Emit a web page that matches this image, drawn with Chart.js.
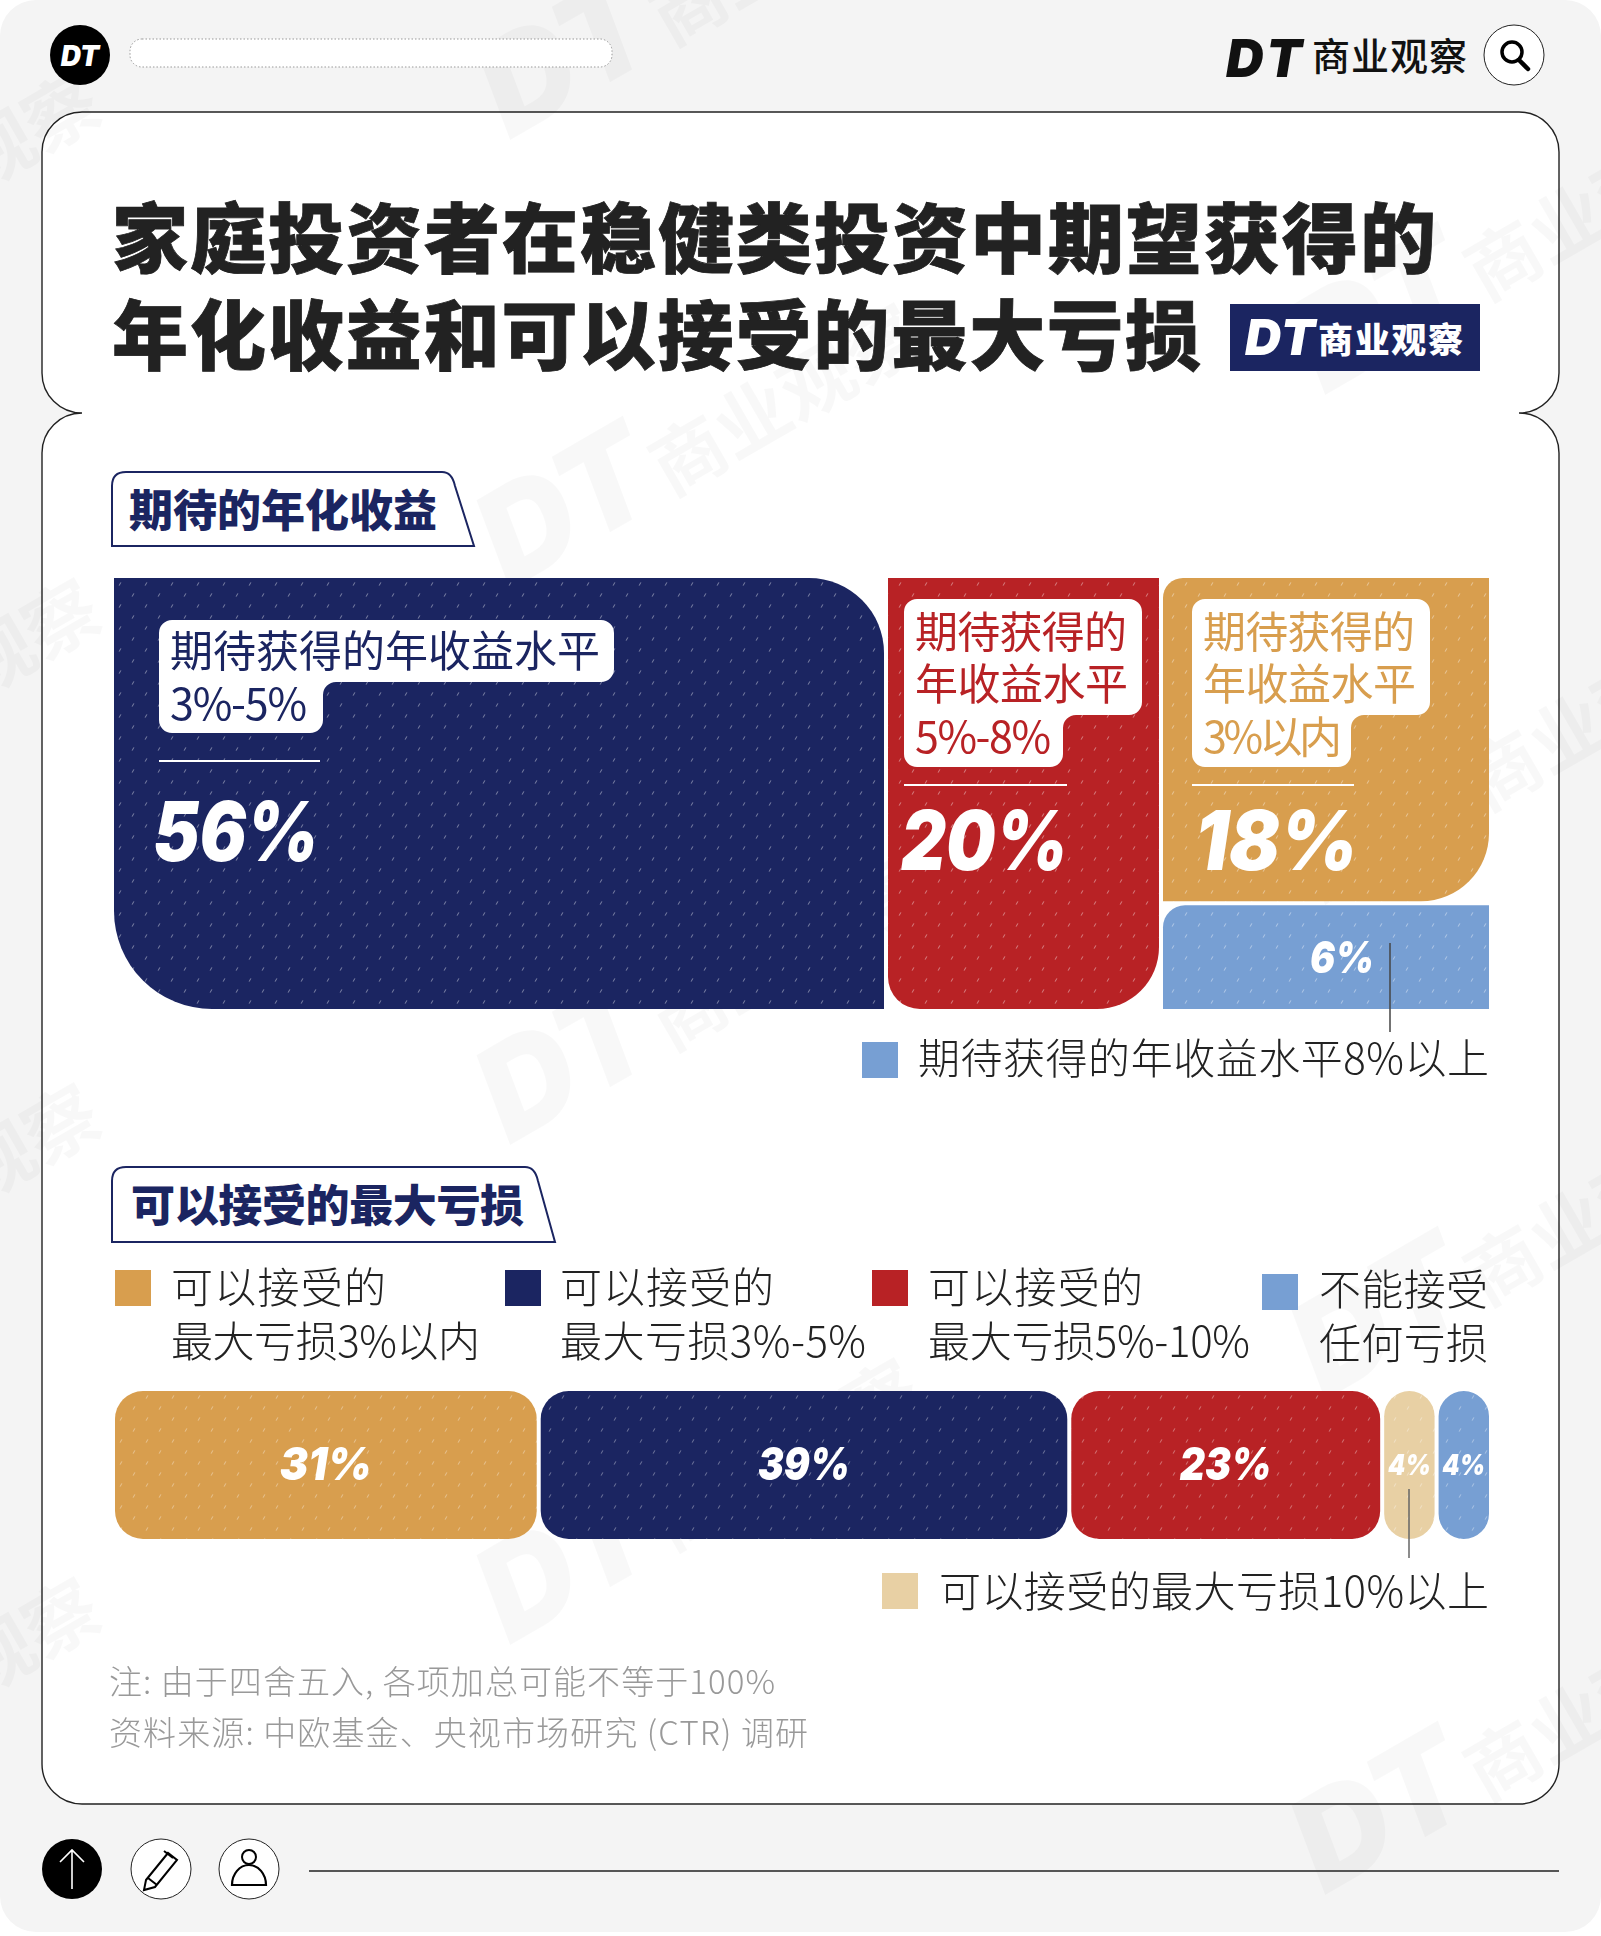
<!DOCTYPE html>
<html lang="zh-CN">
<head>
<meta charset="utf-8">
<title>家庭投资者在稳健类投资中期望获得的年化收益和可以接受的最大亏损</title>
<script src="https://cdn.jsdelivr.net/npm/chart.js@4/dist/chart.umd.min.js"></script>
<style>
    html, body { margin: 0; padding: 0; background: #fff; }
    #page { position: relative; width: 1601px; height: 1936px; overflow: hidden; }
    #page svg, #page canvas { position: absolute; }
    #under, #over { left: 0; top: 0; }
    #under { z-index: 0; }
    #yieldChart { left: 114px; top: 578px; z-index: 1; }
    #lossChart { left: 115px; top: 1391px; z-index: 1; }
    #over { z-index: 2; pointer-events: none; }
</style>
</head>
<body>
<div id="page">
    <svg id="under" width="1601" height="1936" xmlns="http://www.w3.org/2000/svg"></svg>
    <canvas id="yieldChart" width="1375" height="431"></canvas>
    <canvas id="lossChart" width="1374" height="148"></canvas>
    <svg id="over" width="1601" height="1936" xmlns="http://www.w3.org/2000/svg"></svg>
</div>

<script>
const titleLines = ['家庭投资者在稳健类投资中期望获得的', '年化收益和可以接受的最大亏损'];
const brandName = '商业观察';
const yieldHeading = '期待的年化收益';
const lossHeading = '可以接受的最大亏损';

const yieldShares = [56, 20, 18, 6];
const yieldColors = ['#1b2561', '#b82225', '#d89e4e', '#779fd3'];
const yieldCallouts = [
    ['期待获得的年收益水平', '3%-5%'],
    ['期待获得的', '年收益水平', '5%-8%'],
    ['期待获得的', '年收益水平', '3%以内']
];
const yieldLegendLabel = '期待获得的年收益水平8%以上';

const lossCategories = ['3%以内', '3%-5%', '5%-10%', '10%以上', '不能接受'];
const lossShares = [31, 39, 23, 4, 4];
const lossColors = ['#d89e4e', '#1b2561', '#b82225', '#e8d0a4', '#779fd3'];
const lossLegendLabels = [
    ['可以接受的', '最大亏损3%以内'],
    ['可以接受的', '最大亏损3%-5%'],
    ['可以接受的', '最大亏损5%-10%'],
    ['不能接受', '任何亏损']
];
const lossTailLabel = '可以接受的最大亏损10%以上';

const footnotes = ['注: 由于四舍五入, 各项加总可能不等于100%', '资料来源: 中欧基金、央视市场研究 (CTR) 调研'];

const CJK = '"Noto Sans CJK SC", "Noto Sans", sans-serif';
const NUM = 'Inter, Roboto, "Liberation Sans", sans-serif';
const NS = 'http://www.w3.org/2000/svg';
const under = document.getElementById('under');
const over = document.getElementById('over');

function el(parent, tag, attrs, text) {
    const node = document.createElementNS(NS, tag);
    Object.keys(attrs).forEach(k => node.setAttribute(k, attrs[k]));
    if (text !== undefined) node.textContent = text;
    parent.appendChild(node);
    return node;
}

// x = left edge, cy = vertical centre, x2 = right edge the text has to reach
function label(parent, x, cy, str, size, fill, x2, extra) {
    const attrs = Object.assign({
        x: x, y: cy - 2.5, fill: fill, 'font-size': size, 'font-family': CJK,
        'dominant-baseline': 'central'
    }, extra || {});
    if (x2) {
        attrs.textLength = x2 - x;
        attrs.lengthAdjust = 'spacing';
    }
    return el(parent, 'text', attrs, str);
}

/* ---------- page furniture ---------- */
el(under, 'rect', { x: 0, y: 0, width: 1601, height: 1932, rx: 36, fill: '#f4f4f4' });
el(under, 'path', {
    d: 'M82,112 H1519 A40,40 0 0 1 1559,152 V373 A40,40 0 0 1 1519,413 A40,40 0 0 1 1559,453 V1764 ' +
       'A40,40 0 0 1 1519,1804 H82 A40,40 0 0 1 42,1764 V453 A40,40 0 0 1 82,413 A40,40 0 0 1 42,373 ' +
       'V152 A40,40 0 0 1 82,112 Z',
    fill: '#fff', stroke: '#222', 'stroke-width': 1.4
});

// faint brand watermark
const markX = [-310, 510, 1325];
const markY = [[358, 865, 1370, 1864], [140, 590, 1145, 1645], [395, 905, 1400, 1895]];
markX.forEach((x, c) => {
    markY[c].forEach(y => {
        const g = el(under, 'g', { transform: `translate(${x},${y}) rotate(-30)`, fill: 'rgba(0,0,0,0.028)' });
        el(g, 'text', { x: 0, y: 0, 'font-size': 130, 'font-weight': 900, 'font-style': 'italic', 'font-family': NUM }, 'DT');
        el(g, 'text', { x: 185, y: 0, 'font-size': 74, 'font-weight': 700, 'font-family': CJK }, brandName);
    });
});

// top bar
el(under, 'circle', { cx: 80, cy: 55, r: 30, fill: '#000' });
el(under, 'text', { x: 80, y: 56, fill: '#fff', 'text-anchor': 'middle', 'dominant-baseline': 'central',
    'font-size': 28, 'font-weight': 900, 'font-style': 'italic', 'font-family': NUM }, 'DT');
el(under, 'rect', { x: 130, y: 39, width: 482, height: 28, rx: 12, fill: '#fff', stroke: '#999',
    'stroke-width': 1, 'stroke-dasharray': '1.5 2' });
el(under, 'text', { x: 1226, y: 58, fill: '#111', 'dominant-baseline': 'central', textLength: 76,
    'font-size': 52, 'font-weight': 900, 'font-style': 'italic', 'font-family': NUM }, 'DT');
label(under, 1312, 56, brandName, 38, '#111', 1467, { 'font-weight': 500 });
el(under, 'circle', { cx: 1514, cy: 55, r: 30, fill: '#fff', stroke: '#222', 'stroke-width': 1 });
el(under, 'circle', { cx: 1512, cy: 52, r: 10, fill: 'none', stroke: '#000', 'stroke-width': 3.5 });
el(under, 'line', { x1: 1519, y1: 60, x2: 1528, y2: 69, stroke: '#000', 'stroke-width': 4.5, 'stroke-linecap': 'round' });

// title
label(under, 112, 236, titleLines[0], 76, '#222', 1436, { 'font-weight': 900, stroke: '#222', 'stroke-width': 0.8 });
label(under, 112, 333, titleLines[1], 76, '#222', 1201, { 'font-weight': 900, stroke: '#222', 'stroke-width': 0.8 });
el(under, 'rect', { x: 1230, y: 304, width: 250, height: 67, fill: '#1b2561' });
el(under, 'text', { x: 1245, y: 337, fill: '#fff', 'dominant-baseline': 'central', textLength: 70,
    'font-size': 50, 'font-weight': 900, 'font-style': 'italic', 'font-family': NUM }, 'DT');
label(under, 1318, 340, brandName, 35, '#fff', 1463, { 'font-weight': 900 });

// section tabs
function tab(x1, y1, x2, y2, inset) {
    el(under, 'path', {
        d: `M${x1},${y2} V${y1 + 14} Q${x1},${y1} ${x1 + 14},${y1} H${x2 - inset - 10} ` +
           `Q${x2 - inset},${y1} ${x2 - inset + 3},${y1 + 14} L${x2},${y2} Z`,
        fill: '#fff', stroke: '#1b2561', 'stroke-width': 2
    });
}
tab(112, 472, 474, 546, 22);
label(under, 129, 510, yieldHeading, 44, '#1b2561', 437, { 'font-weight': 900 });
tab(112, 1167, 555, 1242, 20);
label(under, 131, 1205, lossHeading, 44, '#1b2561', 524, { 'font-weight': 900 });

/* ---------- charts ---------- */
// little slanted white ticks that sit on every bar
function dotted(color, alpha) {
    const tile = document.createElement('canvas');
    tile.width = 26;
    tile.height = 22;
    const c = tile.getContext('2d');
    c.fillStyle = color;
    c.fillRect(0, 0, 26, 22);
    c.strokeStyle = `rgba(255,255,255,${alpha})`;
    c.lineWidth = 1;
    [[6, 6], [19, 17]].forEach(p => {
        c.beginPath();
        c.moveTo(p[0] - 0.8, p[1] + 1.6);
        c.lineTo(p[0] + 0.8, p[1] - 1.6);
        c.stroke();
    });
    return document.createElement('canvas').getContext('2d').createPattern(tile, 'repeat');
}

const GAP = 4;

// the side column holds two shares stacked on top of each other
const sideStart = yieldShares[0] + yieldShares[1];
const sideTotal = yieldShares[2] + yieldShares[3];
const sideSplit = yieldShares[2] / sideTotal;
const yieldSpans = [[0, yieldShares[0]], [yieldShares[0], sideStart], [sideStart, sideStart + sideTotal], [sideStart, sideStart + sideTotal]];
const yieldRows = [[0, 1], [0, 1], [0, sideSplit], [sideSplit, 1]];
const yieldRadius = [
    { topLeft: 0, topRight: 75, bottomLeft: 98, bottomRight: 0 },
    { topLeft: 0, topRight: 0, bottomLeft: 32, bottomRight: 62 },
    { topLeft: 20, topRight: 0, bottomLeft: 0, bottomRight: 68 },
    { topLeft: 22, topRight: 0, bottomLeft: 0, bottomRight: 0 }
];
const yieldLabelStyle = [
    { dx: 39, cy: 258, size: 82, fit: 166 },
    { dx: 13, cy: 267, size: 82, fit: 167 },
    { dx: 32, cy: 267, size: 82, fit: 163 },
    { dx: 147, cy: 382, size: 44, fit: 64 }
];

// bars take their width from the x scale, so each cell spans its own share
const cellSpan = {
    id: 'cellSpan',
    afterDatasetsUpdate(chart) {
        chart.data.datasets.forEach((ds, i) => {
            const bar = chart.getDatasetMeta(i).data[0];
            const left = chart.scales.x.getPixelForValue(yieldSpans[i][0]) + (yieldSpans[i][0] > 0 ? GAP : 0);
            const right = chart.scales.x.getPixelForValue(yieldSpans[i][1]);
            bar.x = (left + right) / 2;
            bar.width = right - left;
            if (yieldRows[i][0] > 0) bar.base += GAP;
        });
    },
    afterDatasetsDraw(chart) {
        const ctx = chart.ctx;
        ctx.save();
        ctx.fillStyle = '#fff';
        ctx.textBaseline = 'middle';
        chart.data.datasets.forEach((ds, i) => {
            const bar = chart.getDatasetMeta(i).data[0];
            const st = yieldLabelStyle[i];
            ctx.font = `italic 900 ${st.size}px ${NUM}`;
            ctx.fillText(yieldShares[i] + '%', bar.x - bar.width / 2 + st.dx, st.cy, st.fit);
        });
        ctx.restore();
    }
};

new Chart(document.getElementById('yieldChart'), {
    type: 'bar',
    data: {
        datasets: yieldShares.map((v, i) => ({
            label: v + '%',
            data: [{ x: (yieldSpans[i][0] + yieldSpans[i][1]) / 2, y: yieldRows[i] }],
            backgroundColor: dotted(yieldColors[i], 0.45),
            borderRadius: yieldRadius[i],
            borderSkipped: false,
            inflateAmount: 0
        }))
    },
    options: {
        responsive: false,
        animation: false,
        grouped: false,
        plugins: { legend: { display: false }, tooltip: { enabled: false } },
        scales: {
            x: { type: 'linear', display: false, min: 0, max: 100, offset: false },
            y: { type: 'linear', display: false, min: 0, max: 1, reverse: true }
        }
    },
    plugins: [cellSpan]
});

const lossGaps = {
    id: 'lossGaps',
    afterDatasetsUpdate(chart) {
        chart.data.datasets.forEach((ds, i) => {
            if (i === 0) return;
            const bar = chart.getDatasetMeta(i).data[0];
            bar.base += GAP;
            bar.width -= GAP;
        });
    },
    afterDatasetsDraw(chart) {
        const ctx = chart.ctx;
        ctx.save();
        ctx.fillStyle = '#fff';
        ctx.textAlign = 'center';
        ctx.textBaseline = 'middle';
        chart.data.datasets.forEach((ds, i) => {
            const bar = chart.getDatasetMeta(i).data[0];
            const small = lossShares[i] < 10;
            ctx.font = `italic 900 ${small ? 29 : 46}px ${NUM}`;
            ctx.fillText(lossShares[i] + '%', (bar.x + bar.base) / 2, bar.y + 1.5, small ? 43 : 92);
        });
        ctx.restore();
    }
};

new Chart(document.getElementById('lossChart'), {
    type: 'bar',
    data: {
        labels: [lossHeading],
        datasets: lossCategories.map((name, i) => ({
            label: name,
            data: [lossShares[i]],
            backgroundColor: dotted(lossColors[i], 0.4),
            borderRadius: { topLeft: 28, topRight: 28, bottomLeft: 28, bottomRight: 28 },
            borderSkipped: false,
            inflateAmount: 0,
            barPercentage: 1,
            categoryPercentage: 1
        }))
    },
    options: {
        indexAxis: 'y',
        responsive: false,
        animation: false,
        plugins: { legend: { display: false }, tooltip: { enabled: false } },
        scales: {
            x: { stacked: true, display: false, min: 0, max: lossShares.reduce((a, b) => a + b, 0) },
            y: { stacked: true, display: false }
        }
    },
    plugins: [lossGaps]
});

/* ---------- callouts and legends on top of the bars ---------- */
function callout(x0, y0, x1, y1, x2, y2) {
    const r = 13;
    el(over, 'path', {
        d: `M${x0 + r},${y0} H${x1 - r} A${r},${r} 0 0 1 ${x1},${y0 + r} V${y1 - r} A${r},${r} 0 0 1 ${x1 - r},${y1} ` +
           `H${x2 + r} A${r},${r} 0 0 0 ${x2},${y1 + r} V${y2 - r} A${r},${r} 0 0 1 ${x2 - r},${y2} ` +
           `H${x0 + r} A${r},${r} 0 0 1 ${x0},${y2 - r} V${y0 + r} A${r},${r} 0 0 1 ${x0 + r},${y0} Z`,
        fill: '#fff'
    });
}
function rule(x1, x2, y) {
    el(over, 'rect', { x: x1, y: y - 1, width: x2 - x1, height: 2, fill: '#fff' });
}

callout(159, 620, 614, 682, 323, 733);
label(over, 170, 650, yieldCallouts[0][0], 43, yieldColors[0], 600);
label(over, 170, 703, yieldCallouts[0][1], 43, yieldColors[0], 307);
rule(159, 320, 761);

callout(904, 599, 1142, 715, 1063, 767);
label(over, 915, 631, yieldCallouts[1][0], 43, yieldColors[1], 1127);
label(over, 915, 683, yieldCallouts[1][1], 43, yieldColors[1], 1128);
label(over, 915, 736, yieldCallouts[1][2], 43, yieldColors[1], 1051);
rule(904, 1067, 785);

callout(1192, 599, 1430, 715, 1351, 767);
label(over, 1203, 631, yieldCallouts[2][0], 43, yieldColors[2], 1415);
label(over, 1203, 683, yieldCallouts[2][1], 43, yieldColors[2], 1416);
label(over, 1203, 736, yieldCallouts[2][2], 43, yieldColors[2], 1342);
rule(1192, 1354, 785);

el(over, 'line', { x1: 1390, y1: 943, x2: 1390, y2: 1032, stroke: '#444', 'stroke-width': 1.5 });
el(over, 'rect', { x: 862, y: 1042, width: 36, height: 36, fill: yieldColors[3] });
label(over, 918, 1058, yieldLegendLabel, 42, '#222', 1489, { 'font-weight': 300 });

const lossLegendPos = [
    { sq: 115, sy: 1270, tx: 171, r1: 386, r2: 480, cy: 1287 },
    { sq: 505, sy: 1270, tx: 560, r1: 774, r2: 866, cy: 1287 },
    { sq: 872, sy: 1270, tx: 928, r1: 1143, r2: 1250, cy: 1287 },
    { sq: 1262, sy: 1274, tx: 1319, r1: 1488, r2: 1488, cy: 1289 }
];
const legendColors = [lossColors[0], lossColors[1], lossColors[2], lossColors[4]];
lossLegendLabels.forEach((lines, i) => {
    const p = lossLegendPos[i];
    el(over, 'rect', { x: p.sq, y: p.sy, width: 36, height: 36, fill: legendColors[i] });
    label(over, p.tx, p.cy, lines[0], 42, '#222', p.r1, { 'font-weight': 300 });
    label(over, p.tx, p.cy + 54, lines[1], 42, '#222', p.r2, { 'font-weight': 300 });
});

el(over, 'line', { x1: 1409, y1: 1489, x2: 1409, y2: 1558, stroke: '#666', 'stroke-width': 1.5 });
el(over, 'rect', { x: 882, y: 1573, width: 36, height: 36, fill: lossColors[3] });
label(over, 939, 1591, lossTailLabel, 42, '#222', 1489, { 'font-weight': 300 });

label(over, 109, 1682, footnotes[0], 33, '#999', 775, { 'font-weight': 300 });
label(over, 109, 1733, footnotes[1], 33, '#999', 808, { 'font-weight': 300 });

// bottom toolbar
el(under, 'circle', { cx: 72, cy: 1869, r: 30, fill: '#000' });
el(under, 'path', { d: 'M72,1889 V1850 M60,1862 L72,1850 L84,1862', fill: 'none', stroke: '#fff', 'stroke-width': 1.6 });
el(under, 'circle', { cx: 161, cy: 1869, r: 30, fill: '#fff', stroke: '#222', 'stroke-width': 1 });
el(under, 'path', { d: 'M146,1880 L168,1853 L177,1860 L155,1887 L144,1890 Z M148,1878 L157,1885 M164,1851 L173,1858',
    fill: 'none', stroke: '#000', 'stroke-width': 2 });
el(under, 'circle', { cx: 249, cy: 1869, r: 30, fill: '#fff', stroke: '#222', 'stroke-width': 1 });
el(under, 'circle', { cx: 249, cy: 1857, r: 7, fill: 'none', stroke: '#000', 'stroke-width': 2 });
el(under, 'path', { d: 'M232,1885 A17,20 0 0 1 266,1885 Z', fill: 'none', stroke: '#000', 'stroke-width': 2.2 });
el(under, 'line', { x1: 309, y1: 1871, x2: 1559, y2: 1871, stroke: '#222', 'stroke-width': 1.4 });
</script>
</body>
</html>
